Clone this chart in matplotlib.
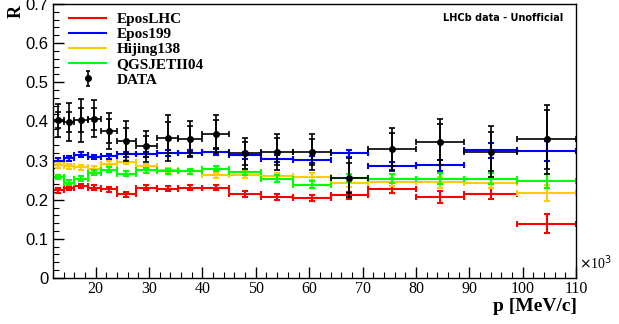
import numpy as np
import matplotlib
matplotlib.use("Agg")
import matplotlib.pyplot as plt
from matplotlib.lines import Line2D
from matplotlib.ticker import MultipleLocator

# p bins (x10^3 MeV/c)
bin_edges = [12, 14, 16, 18.5, 21, 24, 27.5, 31.5, 35.5, 40, 45, 51, 57, 64, 71, 80, 89, 99, 110]

epos_lhc = [0.224, 0.230, 0.235, 0.231, 0.226, 0.214, 0.231, 0.228, 0.231, 0.231, 0.214,
            0.207, 0.204, 0.211, 0.226, 0.207, 0.215, 0.139]
epos_lhc_err = [0.006, 0.006, 0.006, 0.006, 0.006, 0.006, 0.006, 0.006, 0.006, 0.007, 0.007,
                0.008, 0.008, 0.009, 0.010, 0.015, 0.014, 0.024]

epos199 = [0.300, 0.306, 0.315, 0.309, 0.311, 0.316, 0.316, 0.319, 0.319, 0.322, 0.313,
           0.305, 0.302, 0.318, 0.286, 0.288, 0.326, 0.324]
epos199_err = [0.006, 0.006, 0.006, 0.006, 0.006, 0.006, 0.006, 0.007, 0.007, 0.007, 0.008,
               0.008, 0.009, 0.010, 0.011, 0.014, 0.020, 0.026]

hijing138 = [0.288, 0.285, 0.283, 0.279, 0.292, 0.296, 0.285, 0.275, 0.272, 0.262, 0.264,
             0.260, 0.258, 0.243, 0.245, 0.244, 0.243, 0.217]
hijing138_err = [0.006, 0.006, 0.006, 0.006, 0.006, 0.006, 0.006, 0.007, 0.007, 0.007, 0.008,
                 0.008, 0.009, 0.010, 0.011, 0.013, 0.014, 0.021]

qgsjet = [0.258, 0.243, 0.254, 0.269, 0.277, 0.266, 0.275, 0.272, 0.272, 0.279, 0.271,
          0.254, 0.238, 0.256, 0.254, 0.254, 0.254, 0.248]
qgsjet_err = [0.006, 0.006, 0.006, 0.006, 0.007, 0.006, 0.006, 0.007, 0.007, 0.007, 0.008,
              0.008, 0.009, 0.010, 0.011, 0.013, 0.014, 0.017]

data_r = [0.403, 0.398, 0.403, 0.407, 0.375, 0.350, 0.336, 0.358, 0.355, 0.367, 0.318,
          0.323, 0.322, 0.256, 0.329, 0.347, 0.323, 0.354]
data_err = [0.042, 0.048, 0.055, 0.048, 0.046, 0.050, 0.040, 0.058, 0.046, 0.049, 0.040,
            0.046, 0.045, 0.050, 0.055, 0.058, 0.065, 0.088]
data_stat = [0.020, 0.025, 0.030, 0.028, 0.030, 0.034, 0.026, 0.040, 0.032, 0.036, 0.030,
             0.035, 0.034, 0.038, 0.042, 0.046, 0.050, 0.075]

edges = np.array(bin_edges)
xc = (edges[:-1] + edges[1:]) / 2
xw = (edges[1:] - edges[:-1]) / 2

fig = plt.figure(figsize=(6.19, 3.24), dpi=100)
ax = fig.add_axes([0.0856, 0.142, 0.845, 0.846])

models = [
    ("EposLHC", epos_lhc, epos_lhc_err, "#ff0000"),
    ("Epos199", epos199, epos199_err, "#0000ff"),
    ("Hijing138", hijing138, hijing138_err, "#ffcc00"),
    ("QGSJETII04", qgsjet, qgsjet_err, "#00ff00"),
]
handles = []
for name, vals, errs, col in models:
    ax.errorbar(xc, vals, xerr=xw, yerr=errs, fmt="none", ecolor=col,
                elinewidth=1.5, capsize=2, capthick=1.5)
    handles.append(Line2D([], [], color=col, lw=1.5))

# data: total and inner error caps
ax.errorbar(xc, data_r, yerr=data_stat, fmt="none", ecolor="black",
            elinewidth=1.2, capsize=2, capthick=1.2)
ax.errorbar(xc, data_r, xerr=xw, yerr=data_err, fmt="o", color="black",
            ms=4, elinewidth=1.2, capsize=2, capthick=1.2)
# legend handle: marker with a short vertical bar only
h_data = ax.errorbar([np.nan], [np.nan], yerr=[0.01], fmt="o", color="black",
                     ms=4, elinewidth=1.2, capsize=1.5, capthick=1.2)
handles.append(h_data)

ax.set_xlim(12, 110)
ax.set_ylim(0, 0.7)

ax.xaxis.set_major_locator(MultipleLocator(10))
ax.xaxis.set_minor_locator(MultipleLocator(2))
ax.yaxis.set_major_locator(MultipleLocator(0.1))
ax.yaxis.set_minor_locator(MultipleLocator(0.02))
ax.tick_params(which="both", direction="in", top=False, right=False)
ax.tick_params(which="major", length=8, width=1)
ax.tick_params(which="minor", length=4, width=0.8)
ax.tick_params(axis="x", pad=2)
ax.set_yticks(np.arange(0, 0.71, 0.1))
ax.set_yticklabels(["0", "0.1", "0.2", "0.3", "0.4", "0.5", "0.6", "0.7"],
                   family="Liberation Sans", fontsize=12)
xt = np.arange(20, 111, 10)
ax.set_xticks(xt)
ax.set_xticklabels([str(v) for v in xt], family="Liberation Serif", fontsize=11.5)

for s in ax.spines.values():
    s.set_linewidth(1)

fig.text(0.935, 0.17, r"$\times$10$^{3}$", family="Liberation Serif", fontsize=10)
fig.text(0.932, 0.04, "p [MeV/c]", ha="right", family="Liberation Serif",
         fontweight="bold", fontsize=14)
fig.text(0.012, 0.985, "R", rotation=90, va="top", family="Liberation Serif",
         fontweight="bold", fontsize=13)
ax.text(0.975, 0.965, "LHCb data - Unofficial", transform=ax.transAxes, ha="right",
        va="top", fontsize=7, fontweight="bold", family="DejaVu Sans")

leg = ax.legend(handles, [m[0] for m in models] + ["DATA"], loc="upper left",
                bbox_to_anchor=(0.005, 1.02), frameon=False, handlelength=2.4,
                handletextpad=0.7, labelspacing=0.1,
                prop={"family": "Liberation Serif", "weight": "bold", "size": 11})

fig.savefig("out.png", dpi=100)
